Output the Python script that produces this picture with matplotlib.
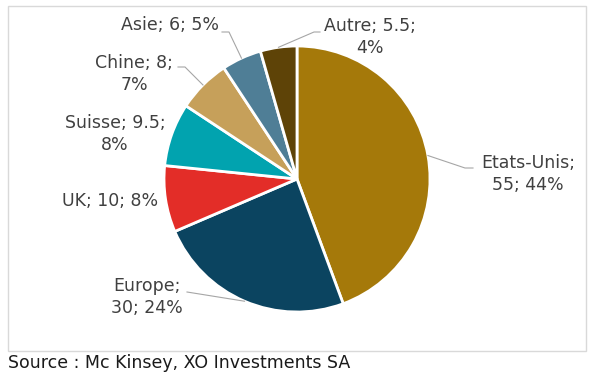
import matplotlib.pyplot as plt
import numpy as np
from matplotlib.patches import Rectangle

# Data
categories = ["Etats-Unis", "Europe", "UK", "Suisse", "Chine", "Asie", "Autre"]
values = [55, 30, 10, 9.5, 8, 6, 5.5]
percents = ["44%", "24%", "8%", "8%", "7%", "5%", "4%"]
colors = ["#A5790A", "#0B4460", "#E32D28", "#01A3AF", "#C6A05A", "#4F7E96", "#5E4307"]

# Label layout in pixel coords (x, y from top): text centre, line breaks, leader elbow/end
label_text = {
    "Etats-Unis": "Etats-Unis;\n55; 44%",
    "Europe": "Europe;\n30; 24%",
    "UK": "UK; 10; 8%",
    "Suisse": "Suisse; 9.5;\n8%",
    "Chine": "Chine; 8;\n7%",
    "Asie": "Asie; 6; 5%",
    "Autre": "Autre; 5.5;\n4%",
}
label_pos = {
    "Etats-Unis": (528, 174),
    "Europe": (147, 297),
    "UK": (110, 201),
    "Suisse": (115, 134),
    "Chine": (134, 74),
    "Asie": (170, 25),
    "Autre": (370, 37),
}
leader = {
    "Etats-Unis": [(465, 168), (473, 168)],
    "Europe": [(187, 292)],
    "Chine": [(185, 67), (178, 67)],
    "Asie": [(229, 32), (222, 32)],
    "Autre": [(314, 32), (320, 32)],
}

W, H = 591, 377
cx, cy, R = 297, 179, 133

fig = plt.figure(figsize=(W / 100, H / 100), dpi=100)
ax = fig.add_axes([0, 0, 1, 1])
ax.set_xlim(0, W)
ax.set_ylim(0, H)
ax.axis("off")

# Frame around the chart
ax.add_patch(Rectangle((8, H - 351), 578, 345, fill=False, edgecolor="#D9D9D9", lw=1))

wedges, _ = ax.pie(
    values,
    colors=colors,
    startangle=90,
    counterclock=False,
    center=(cx, H - cy),
    radius=R,
    wedgeprops=dict(edgecolor="white", linewidth=2),
    frame=True,
)
ax.set_xlim(0, W)
ax.set_ylim(0, H)
ax.set_aspect("equal")
ax.axis("off")

text_kw = dict(fontsize=12.5, color="#404040", family="DejaVu Sans", linespacing=1.35)

for w, name in zip(wedges, categories):
    x, y = label_pos[name]
    ax.text(x, H - y, label_text[name], ha="center", va="center", **text_kw)
    if name in leader:
        ang = np.deg2rad((w.theta1 + w.theta2) / 2)
        xs = [cx + R * np.cos(ang)] + [p[0] for p in leader[name]]
        ys = [H - cy + R * np.sin(ang)] + [H - p[1] for p in leader[name]]
        ax.plot(xs, ys, color="#A6A6A6", lw=0.8)

ax.text(8, H - 363, "Source : Mc Kinsey, XO Investments SA", ha="left", va="center",
        fontsize=12.5, color="#1A1A1A", family="DejaVu Sans")

fig.savefig("out.png", dpi=100)
